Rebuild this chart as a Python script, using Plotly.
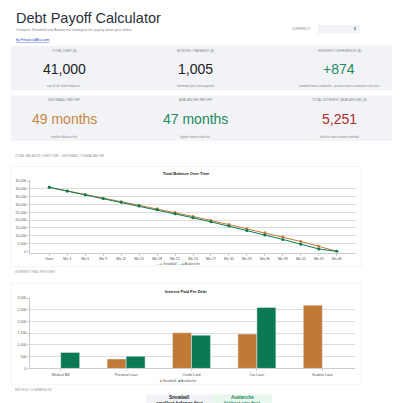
import plotly.graph_objects as go

W, H = 400, 403

months = ['Start', 'Mo 3', 'Mo 6', 'Mo 9', 'Mo 12', 'Mo 15', 'Mo 18', 'Mo 21', 'Mo 24',
          'Mo 27', 'Mo 30', 'Mo 33', 'Mo 36', 'Mo 39', 'Mo 42', 'Mo 45', 'Mo 48']
snowball_bal = [41000, 38600, 36300, 34000, 31800, 29500, 27200, 24800, 22300,
                19800, 17100, 14500, 11900, 9300, 6300, 3200, 0]
avalanche_bal = [41000, 38600, 36200, 33900, 31400, 29000, 26600, 24100, 21500,
                 18900, 16200, 13400, 10500, 7600, 4600, 1500, 0]

debts = ['Medical Bill', 'Personal Loan', 'Credit Card', 'Car Loan', 'Student Loan']
snowball_int = [0, 400, 1520, 1470, 2700]
avalanche_int = [680, 520, 1420, 2600, 0]

ORANGE = '#c07a35'
GREEN = '#0b7a53'


def px(x):
    return x / W


def py(y):
    return 1 - y / H


fig = go.Figure()
fig.add_trace(go.Scatter(x=months, y=snowball_bal, name='Snowball', mode='lines+markers',
                         line=dict(color=ORANGE, width=1), marker=dict(size=3),
                         xaxis='x', yaxis='y'))
fig.add_trace(go.Scatter(x=months, y=avalanche_bal, name='Avalanche', mode='lines+markers',
                         line=dict(color=GREEN, width=1), marker=dict(size=3),
                         xaxis='x', yaxis='y'))
fig.add_trace(go.Bar(x=debts, y=snowball_int, name='Snowball', marker_color=ORANGE,
                     xaxis='x2', yaxis='y2', showlegend=False))
fig.add_trace(go.Bar(x=debts, y=avalanche_int, name='Avalanche', marker_color=GREEN,
                     xaxis='x2', yaxis='y2', showlegend=False))

ax = dict(tickfont=dict(size=3.5, color='#555'), showline=True, linecolor='#ccc',
          ticks='outside', ticklen=2, tickcolor='#ccc', fixedrange=True)
fig.update_layout(
    width=W, height=H, margin=dict(l=0, r=0, t=0, b=0),
    paper_bgcolor='white', plot_bgcolor='white',
    font=dict(family='Liberation Sans, Arial'),
    showlegend=False, bargap=0.42,
    xaxis=dict(domain=[px(22), px(348)], anchor='y', showgrid=False, **ax),
    yaxis=dict(domain=[py(245), py(172)], range=[-800, 45500], dtick=5000, tickformat=',',
               gridcolor='#ddd', gridwidth=0.5, **ax),
    xaxis2=dict(domain=[px(20), px(347)], anchor='y2', showgrid=False, **ax),
    yaxis2=dict(domain=[py(362), py(291)], range=[0, 3000], dtick=500, tickformat=',',
                gridcolor='#ddd', gridwidth=0.5, **ax),
)

shapes = [
    dict(x0=3, x1=393, y0=36, y1=81, fill='#f1f3f6'),
    dict(x0=3, x1=393, y0=86, y1=132, fill='#f1f3f6'),
    dict(x0=310, x1=352, y0=15, y1=24, fill='#f1f3f6'),
    dict(x0=3, x1=353, y0=158, y1=259, fill='rgba(0,0,0,0)', line='#eee'),
    dict(x0=3, x1=353, y0=276, y1=378, fill='rgba(0,0,0,0)', line='#eee'),
    dict(x0=138, x1=204, y0=388, y1=403, fill='#f1f3f6'),
    dict(x0=204, x1=264, y0=388, y1=403, fill='#eaf7ef'),
]
for s in shapes:
    fig.add_shape(type='rect', xref='paper', yref='paper', layer='below',
                  x0=px(s['x0']), x1=px(s['x1']), y0=py(s['y1']), y1=py(s['y0']),
                  fillcolor=s['fill'], line=dict(width=0.6 if 'line' in s else 0,
                                                 color=s.get('line', 'rgba(0,0,0,0)')))


def txt(x, y, t, size, color='#333', anchor='center', bold=False):
    if bold:
        t = '<b>' + t + '</b>'
    fig.add_annotation(x=px(x), y=py(y), xref='paper', yref='paper', text=t,
                       showarrow=False, xanchor=anchor, yanchor='middle',
                       font=dict(size=size, color=color))


txt(6, 8, 'Debt Payoff Calculator', 14.5, '#2b2f3a', 'left')
txt(6, 20, 'Compare Snowball and Avalanche strategies for paying down your debts', 3.6, '#888', 'left')
txt(6, 30, '<u>by FinancialAha.com</u>', 3.6, '#1a3fd6', 'left')
txt(305, 19, 'CURRENCY', 3.2, '#888', 'right')
txt(350, 19, '$', 3.6, '#333', 'right')

cols = [56, 187, 331]
row1 = [('TOTAL DEBT ($)', '41,000', 'sum of all current balances', '#222'),
        ('MONTHLY PAYMENT ($)', '1,005', 'minimums plus extra payment', '#222'),
        ('INTEREST DIFFERENCE ($)', '+874', 'snowball minus avalanche - positive means avalanche costs less', '#238a5f')]
row2 = [('SNOWBALL PAYOFF', '49 months', 'smallest balance first', '#c8873f'),
        ('AVALANCHE PAYOFF', '47 months', 'highest interest rate first', '#238a5f'),
        ('TOTAL INTEREST (AVALANCHE) ($)', '5,251', 'with the lowest-interest method', '#b22a2a')]
for (lab, val, sub, c), x in zip(row1, cols):
    txt(x, 41, lab, 3.3, '#888')
    txt(x, 60, val, 14, c)
    txt(x, 77, sub, 2.8, '#888')
for (lab, val, sub, c), x in zip(row2, cols):
    txt(x, 91, lab, 3.3, '#888')
    txt(x, 110, val, 14, c)
    txt(x, 128, sub, 2.8, '#888')

txt(5, 147, 'TOTAL BALANCE OVER TIME - SNOWBALL VS AVALANCHE', 3.2, '#999', 'left')
txt(178, 165, 'Total Balance Over Time', 4, '#222', bold=True)
txt(5, 265, 'INTEREST PAID PER DEBT', 3.2, '#999', 'left')
txt(178, 284, 'Interest Paid Per Debt', 4, '#222', bold=True)
txt(5, 384, 'METHOD COMPARISON', 3.2, '#999', 'left')
txt(171, 391, 'Snowball', 4.6, '#222', bold=True)
txt(171, 397.5, 'smallest balance first', 4.6, '#222', bold=True)
txt(234, 391, 'Avalanche', 4.6, '#238a5f', bold=True)
txt(234, 397.5, 'highest rate first', 4.6, '#238a5f', bold=True)

# legends drawn as small text with colored markers
for y, names in [(257, 'line'), (375, 'bar')]:
    sym = '—●' if names == 'line' else '■'
    txt(170, y, '<span style="color:%s">%s</span> Snowball  <span style="color:%s">%s</span> Avalanche'
        % (ORANGE, sym, GREEN, sym), 3.3, '#555')

fig.write_html("out.html")
